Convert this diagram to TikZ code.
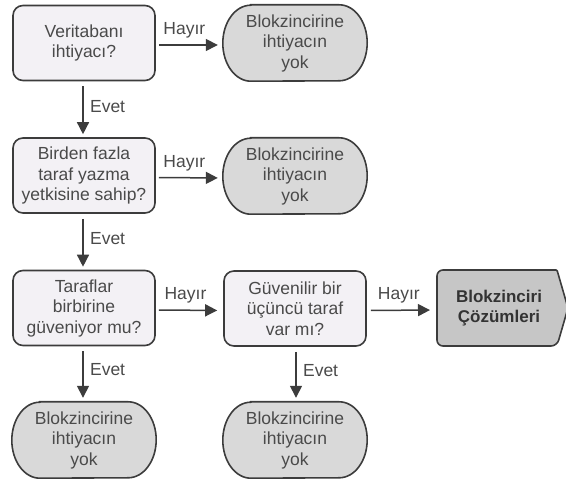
\documentclass[tikz,border=0pt]{standalone}
\usepackage{fontspec}
\setmainfont{Liberation Sans}
\usetikzlibrary{arrows.meta,calc,backgrounds}

\definecolor{inkline}{HTML}{3C3C3C}
\definecolor{inktext}{HTML}{4A4A4A}
\definecolor{qfill}{HTML}{F3F1F5}
\definecolor{tfill}{HTML}{D9D9D9}
\definecolor{rfill}{HTML}{C6C6C6}

% outline of a terminal node: flat top and bottom, half-elliptic ends
\newcommand\termoutline[1]{%
  \begin{pgfonlayer}{background}
    \path[draw=inkline,line width=1.6pt,fill=tfill]
      ($(#1.north west)+(28,0)$) -- ($(#1.north east)+(-28,0)$)
      arc[start angle=90,end angle=-90,x radius=28,y radius=38]
      -- ($(#1.south west)+(28,0)$)
      arc[start angle=270,end angle=90,x radius=28,y radius=38] -- cycle;
  \end{pgfonlayer}}

\begin{document}
\begin{tikzpicture}[x=1pt,y=1pt,
  txt/.style={font=\fontsize{17.5}{20.5}\selectfont,text=inktext,align=center},
  question/.style={txt,draw=inkline,line width=1.6pt,fill=qfill,rounded corners=10pt,
    minimum width=142pt,minimum height=75pt,inner sep=0pt},
  terminal/.style={txt,minimum width=144pt,minimum height=76pt,inner sep=0pt},
  arr/.style={draw=inkline,line width=1.5pt,-{Triangle[length=12pt,width=12pt]}},
  lbl/.style={txt}]
\useasboundingbox (0,0) rectangle (566,479);

% decision boxes
\node[question] (b1) at (84,436) {Veritabanı\\ihtiyacı?};
\node[question] (b2) at (84,303.5) {Birden fazla\\taraf yazma\\yetkisine sahip?};
\node[question] (b3) at (84,171) {Taraflar\\birbirine\\güveniyor mu?};
\node[question] (b4) at (295,170.5) {Güvenilir bir\\üçüncü taraf\\var mı?};

% terminal nodes
\node[terminal] (t1) at (295,436) {Blokzincirine\\ihtiyacın\\yok};
\termoutline{t1}
\node[terminal] (t2) at (295,303) {Blokzincirine\\ihtiyacın\\yok};
\termoutline{t2}
\node[terminal] (t3) at (84,39) {Blokzincirine\\ihtiyacın\\yok};
\termoutline{t3}
\node[terminal] (t4) at (295,39) {Blokzincirine\\ihtiyacın\\yok};
\termoutline{t4}

% result node with pointed right end
\node[txt,font=\fontsize{17}{20.5}\selectfont\bfseries,text=black!80,minimum width=120pt,
  minimum height=76pt,inner sep=0pt] (res) at (499,171) {Blokzinciri\\Çözümleri};
\begin{pgfonlayer}{background}
  \path[draw=inkline,line width=1.6pt,fill=rfill,rounded corners=6pt]
    (557,209) -- (437,209) -- (437,133) -- (557,133) [rounded corners=1pt] -- (568,171) -- cycle;
\end{pgfonlayer}

% connectors
\draw[arr,shorten <=3pt,shorten >=5pt] ([yshift=-2pt]b1.east) -- node[lbl,above=3pt,xshift=-5pt]{Hayır} ([yshift=-2pt]t1.west);
\draw[arr,shorten <=3pt,shorten >=5pt] ([yshift=-2pt]b2.east) -- node[lbl,above=3pt,xshift=-5pt]{Hayır} ([yshift=-2pt]t2.west);
\draw[arr,shorten <=3pt,shorten >=6pt] ([yshift=-2pt]b3.east) -- node[lbl,above=3pt,xshift=-4pt]{Hayır} ([yshift=-2pt]b4.west);
\draw[arr,shorten <=4pt,shorten >=7pt] ([yshift=-2pt]b4.east) -- node[lbl,above=3pt,xshift=-3pt]{Hayır} ([yshift=-2pt]res.west-|437,0);

\draw[arr,shorten <=5pt,shorten >=3pt] ([xshift=-1pt]b1.south) -- node[lbl,right=3pt,yshift=3pt]{Evet} ([xshift=-1pt]b2.north);
\draw[arr,shorten <=5pt,shorten >=3pt] ([xshift=-1pt]b2.south) -- node[lbl,right=3pt,yshift=3pt]{Evet} ([xshift=-1pt]b3.north);
\draw[arr,shorten <=5pt,shorten >=4pt] ([xshift=-1pt]b3.south) -- node[lbl,right=3pt,yshift=4pt]{Evet} ([xshift=-1pt]t3.north);
\draw[arr,shorten <=5pt,shorten >=4pt] ([xshift=1pt]b4.south) -- node[lbl,right=3pt,yshift=4pt]{Evet} ([xshift=1pt]t4.north);
\end{tikzpicture}
\end{document}
